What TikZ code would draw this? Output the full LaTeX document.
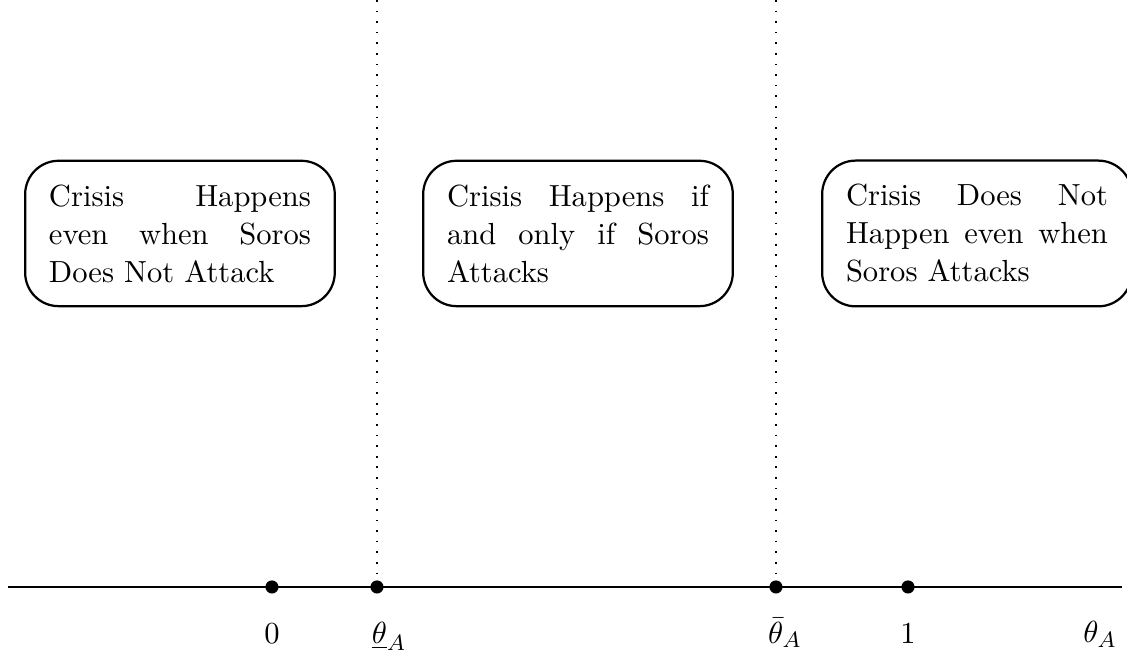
\documentclass[11pt,tikz,border=0pt]{standalone}
\usepackage{amsmath,amssymb}
\usepackage{tikz}
\usetikzlibrary{positioning}
\tikzset{
  region/.style={rectangle, rounded corners=12pt, draw=black, thick,
                 text width=3.3cm, align=justify, inner sep=0.3cm},
  dot/.style={circle, fill=black, inner sep=0pt, minimum size=4.7pt},
  lab/.style={text height=1.6ex, text depth=0.5ex},
  cut/.style={dash pattern=on 0.6pt off 3.2pt, semithick},
  axis/.style={semithick},
}

\begin{document}
\begin{tikzpicture}[node distance=6.2pt]
  \useasboundingbox (0,0) rectangle (14.197,8.251);
  % the line
  \coordinate (axL) at (0.101,0.857);
  \coordinate (axR) at (14.134,0.857);
  \draw [axis] (axL) -- (axR);

  % thresholds
  \coordinate (lowtop) at (4.749,8.251);
  \coordinate (hightop) at (9.775,8.251);

  \node [dot] (zero) at (3.426,0.857) {};
  \node [dot] (tlow) at (4.749,0.857) {};
  \node [dot] (thigh) at (9.775,0.857) {};
  \node [dot] (one) at (11.438,0.857) {};

  \draw [cut] (lowtop) -- (tlow);
  \draw [cut] (hightop) -- (thigh);

  \node [lab, below=of zero] (lzero) {$0$};
  \node [lab, below=of tlow, xshift=4.3pt] (ltlow) {$\underline{\theta}_A$};
  \node [lab, below=of thigh, xshift=3.2pt] (lthigh) {$\bar{\theta}_A$};
  \node [lab, below=of one] (lone) {$1$};
  \node [lab, anchor=north] (ltheta) at (13.857,0.558) {$\theta_A$};

  % regions
  \node [region] (always) at (2.267,5.310) {Crisis Happens even when Soros Does Not Attack};
  \node [region] (iff) at (7.281,5.310) {Crisis Happens if and only if Soros Attacks};
  \node [region] (never) at (12.307,5.310) {Crisis Does Not Happen even when Soros Attacks};
\end{tikzpicture}
\end{document}
